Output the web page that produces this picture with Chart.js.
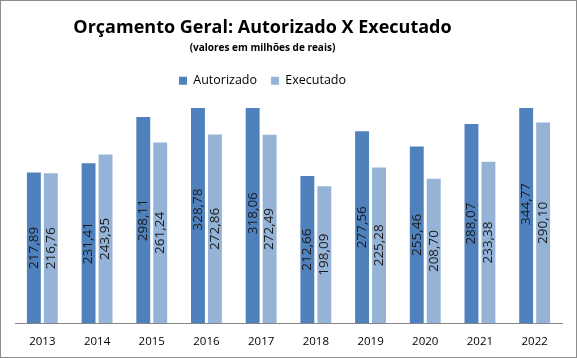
<!DOCTYPE html>
<html>
<head>
<meta charset="utf-8">
<script src="https://cdn.jsdelivr.net/npm/chart.js@4"></script>
<style>
  html, body { margin: 0; padding: 0; background: #fff; }
  #box { width: 577px; height: 358px; box-sizing: border-box; border: 1px solid #8c8c8c; }
</style>
</head>
<body>
<div id="box"><canvas id="orcChart" width="575" height="356"></canvas></div>
<script>
const anos = ["2013", "2014", "2015", "2016", "2017", "2018", "2019", "2020", "2021", "2022"];
const autorizado = [217.89, 231.41, 298.11, 328.78, 318.06, 212.66, 277.56, 255.46, 288.07, 344.77];
const executado = [216.76, 243.95, 261.24, 272.86, 272.49, 198.09, 225.28, 208.70, 233.38, 290.10];

// rotated value labels, centered on the full (unclipped) bar
const rotuloValores = {
  id: 'rotuloValores',
  afterDatasetsDraw(chart) {
    const ctx = chart.ctx;
    const y = chart.scales.y;
    ctx.save();
    ctx.font = '13.5px "Open Sans", sans-serif';
    ctx.fillStyle = '#1a1a1a';
    ctx.textAlign = 'center';
    ctx.textBaseline = 'middle';
    chart.data.datasets.forEach((ds, i) => {
      chart.getDatasetMeta(i).data.forEach((bar, j) => {
        const v = ds.data[j];
        const cy = y.getPixelForValue(v / 2);
        ctx.save();
        ctx.translate(bar.x, cy);
        ctx.rotate(-Math.PI / 2);
        ctx.fillText(v.toFixed(2).replace('.', ','), 0, 0);
        ctx.restore();
      });
    });
    ctx.restore();
  }
};

// title, subtitle and legend sit a bit left of the canvas centre in the original,
// and the legend sits higher above the bars
const deslocaTopo = {
  id: 'deslocaTopo',
  afterLayout(chart) {
    chart.boxes.forEach(b => {
      if (b.position === 'top') b.right -= 52;
    });
    chart.legend.top -= 11;
    chart.legend.bottom -= 11;
  }
};

const ctx = document.getElementById('orcChart').getContext('2d');
let chart = new Chart(ctx, {
  type: 'bar',
  data: {
    labels: anos,
    datasets: [
      { label: "Autorizado", data: autorizado, backgroundColor: "#4f81bd" },
      { label: "Executado", data: executado, backgroundColor: "#95b3d7" }
    ]
  },
  options: {
    responsive: false,
    animation: false,
    categoryPercentage: 0.62,
    barPercentage: 0.82,
    layout: { padding: { left: 14, right: 14, top: 6, bottom: 4 } },
    plugins: {
      title: {
        display: true,
        text: 'Orçamento Geral: Autorizado X Executado',
        color: '#000',
        font: { family: '"Open Sans", sans-serif', size: 18, weight: 'bold' },
        padding: { top: 10, bottom: 4 }
      },
      subtitle: {
        display: true,
        text: '(valores em milhões de reais)',
        color: '#000',
        font: { family: '"Open Sans", sans-serif', size: 10, weight: 'bold' },
        padding: { bottom: 17 }
      },
      legend: {
        position: 'top',
        labels: {
          color: '#000',
          font: { family: '"Open Sans", sans-serif', size: 12.5 },
          boxWidth: 8,
          boxHeight: 8,
          padding: 14
        }
      },
      tooltip: { enabled: false }
    },
    scales: {
      x: {
        grid: { display: false },
        border: { display: true, color: '#868686' },
        ticks: { color: '#000', font: { family: '"Open Sans", sans-serif', size: 11.5 }, padding: 4 }
      },
      y: {
        display: false,
        min: 0,
        max: 311
      }
    }
  },
  plugins: [rotuloValores, deslocaTopo]
});
</script>
</body>
</html>
